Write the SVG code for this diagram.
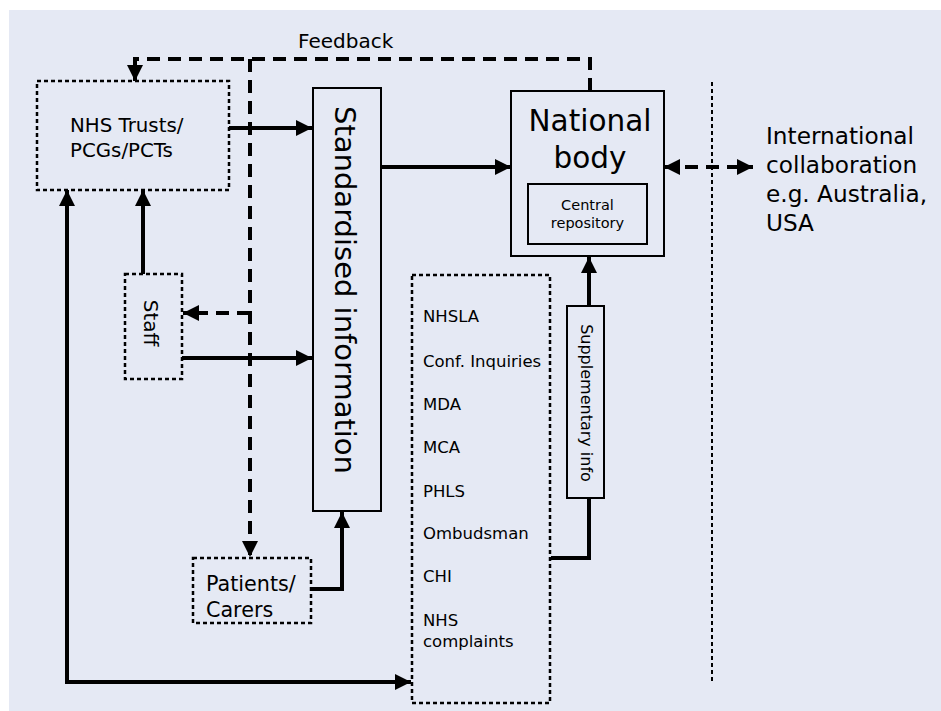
<svg xmlns="http://www.w3.org/2000/svg" width="941" height="711" viewBox="0 0 941 711">
<defs>
<marker id="ah" viewBox="0 0 16 16" refX="16" refY="8" markerWidth="16" markerHeight="16" markerUnits="userSpaceOnUse" orient="auto-start-reverse">
<path d="M0,0 L16,8 L0,16 z" fill="#000"/>
</marker>
<style>
text{font-family:"DejaVu Sans","Open Sans","Liberation Sans",sans-serif;fill:#000}
.solid{fill:none;stroke:#000;stroke-width:4}
.dash{fill:none;stroke:#000;stroke-width:4;stroke-dasharray:13 8}
.box{fill:none;stroke:#000;stroke-width:2}
.dot{fill:none;stroke:#000;stroke-width:2.5;stroke-dasharray:4 3}
.arr{marker-end:url(#ah)}
.li{font-size:16.5px}
</style>
</defs>
<rect x="9" y="10" width="932" height="701" fill="#e5e9f4"/>
<line x1="712" y1="82" x2="712" y2="684" stroke="#000" stroke-width="2" stroke-dasharray="4 3"/>
<g id="connectors">
<path class="dash arr" d="M590,91 L590,59 L135,59 L135,81"/>
<path class="dash arr" d="M250,59 L250,557"/>
<path class="dash arr" d="M250,313 L183,313"/>
<path class="dash arr" d="M664,167 L753,167" marker-start="url(#ah)"/>
<path class="solid arr" d="M229,128 L312,128"/>
<path class="solid arr" d="M381,167 L511,167"/>
<path class="solid arr" d="M143,274 L143,190"/>
<path class="solid arr" d="M182,358 L312,358"/>
<path class="solid arr" d="M67,190 L67,682 L411,682" marker-start="url(#ah)"/>
<path class="solid arr" d="M311,589 L342,589 L342,512"/>
<path class="solid" d="M551,558 L589,558 L589,498"/>
<path class="solid arr" d="M589,306 L589,257"/>
</g>
<text x="298" y="48" font-size="20">Feedback</text>
<g id="nhs">
<rect class="dot" x="37" y="81" width="192" height="109"/>
<text x="70" y="132" font-size="19.8">NHS Trusts/</text>
<text x="70" y="157" font-size="19.8">PCGs/PCTs</text>
</g>
<g id="standardised">
<rect class="box" x="313" y="88" width="68" height="423"/>
<text transform="translate(346,290) rotate(90)" x="0" y="11" font-size="29" text-anchor="middle">Standardised information</text>
</g>
<g id="national">
<rect class="box" x="511" y="91" width="153" height="165"/>
<text x="590" y="131" font-size="29.5" text-anchor="middle">National</text>
<text x="590" y="168" font-size="29.5" text-anchor="middle">body</text>
<rect class="box" x="528" y="184" width="119" height="60"/>
<text x="587.5" y="210" font-size="14.5" text-anchor="middle">Central</text>
<text x="587.5" y="228" font-size="14.5" text-anchor="middle">repository</text>
</g>
<g id="international">
<text x="766" y="144" font-size="23.2">International</text>
<text x="766" y="173" font-size="23.2">collaboration</text>
<text x="766" y="202" font-size="23.2">e.g. Australia,</text>
<text x="766" y="231" font-size="23.2">USA</text>
</g>
<g id="staff">
<rect class="dot" x="125" y="274" width="57" height="105"/>
<text transform="translate(152,323) rotate(90)" x="0" y="8" font-size="20" text-anchor="middle">Staff</text>
</g>
<g id="patients">
<rect class="dot" x="193" y="558" width="118" height="65"/>
<text x="206" y="591" font-size="20.7">Patients/</text>
<text x="206" y="617" font-size="20.7">Carers</text>
</g>
<g id="sources">
<rect class="dot" x="412" y="275" width="138" height="428"/>
<text class="li" x="423" y="322">NHSLA</text>
<text class="li" x="423" y="367">Conf. Inquiries</text>
<text class="li" x="423" y="410">MDA</text>
<text class="li" x="423" y="453">MCA</text>
<text class="li" x="423" y="497">PHLS</text>
<text class="li" x="423" y="539">Ombudsman</text>
<text class="li" x="423" y="582">CHI</text>
<text class="li" x="423" y="626">NHS</text>
<text class="li" x="423" y="647">complaints</text>
</g>
<g id="supplementary">
<rect class="box" x="567" y="306" width="37" height="192"/>
<text transform="translate(586,403) rotate(90)" x="0" y="5" font-size="16" text-anchor="middle">Supplementary info</text>
</g>
</svg>
